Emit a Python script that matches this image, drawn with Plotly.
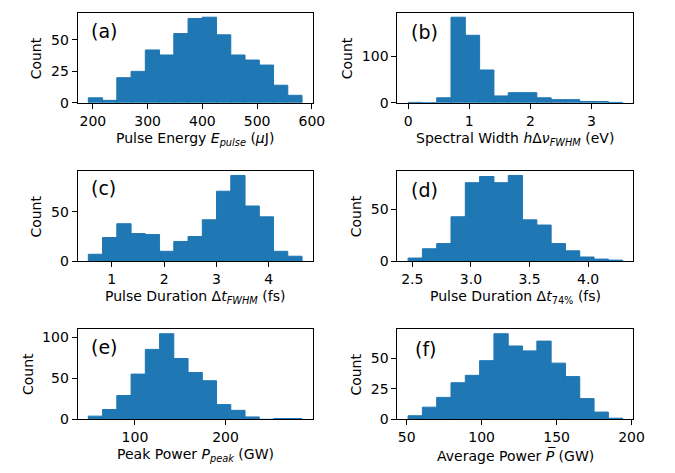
import numpy as np
import plotly.graph_objects as go

# ---- data (histogram counts, 15 equal bins between lo and hi) ----
a_lo, a_hi = 191.6, 582.0
a_counts = [4, 2, 20, 25, 42, 38, 55, 67, 68, 54, 38, 34, 30, 14, 6]

b_lo, b_hi = 0.0, 3.51
b_counts = [1, 0, 11, 185, 146, 71, 15, 22, 22, 11, 7, 7, 3, 3, 1]

c_lo, c_hi = 0.552, 4.635
c_counts = [7, 24, 38, 28, 27, 10, 20, 25, 42, 71, 87, 56, 45, 10, 5]

d_lo, d_hi = 2.464, 4.295
d_counts = [3, 12, 17, 43, 76, 82, 76, 83, 40, 35, 17, 10, 4, 2, 1]

e_lo, e_hi = 48.5, 284.5
e_counts = [4, 12, 29, 55, 85, 104, 74, 57, 47, 18, 11, 3, 0, 1, 1]

f_lo, f_hi = 50.9, 194.1
f_counts = [3, 10, 18, 30, 36, 48, 70, 60, 56, 64, 46, 35, 17, 6, 1]

a_xticks = [200, 300, 400, 500, 600]
b_xticks = [0, 1, 2, 3]
c_xticks = [1, 2, 3, 4]
d_xticks = [2.5, 3.0, 3.5, 4.0]
e_xticks = [100, 200]
f_xticks = [50, 100, 150, 200]

a_yticks = [0, 25, 50]
b_yticks = [0, 100]
c_yticks = [0, 50]
d_yticks = [0, 50]
e_yticks = [0, 50, 100]
f_yticks = [0, 25, 50]

labels = ["(a)", "(b)", "(c)", "(d)", "(e)", "(f)"]
xtitles = [
    "Pulse Energy <i>E<sub>pulse</sub></i> (<i>μ</i>J)",
    "Spectral Width <i>h</i>Δ<i>ν<sub>FWHM</sub></i> (eV)",
    "Pulse Duration Δ<i>t<sub>FWHM</sub></i> (fs)",
    "Pulse Duration Δ<i>t</i><sub>74%</sub> (fs)",
    "Peak Power <i>P<sub>peak</sub></i> (GW)",
    "Average Power <i>P\u0305</i> (GW)",
]
ytitle = "Count"

panels = [
    (a_lo, a_hi, a_counts, a_xticks, a_yticks, ".0f"),
    (b_lo, b_hi, b_counts, b_xticks, b_yticks, ".0f"),
    (c_lo, c_hi, c_counts, c_xticks, c_yticks, ".0f"),
    (d_lo, d_hi, d_counts, d_xticks, d_yticks, ".1f"),
    (e_lo, e_hi, e_counts, e_xticks, e_yticks, ".0f"),
    (f_lo, f_hi, f_counts, f_xticks, f_yticks, ".0f"),
]

# ---- layout geometry ----
W, H = 675, 473
col_x = [(71, 310.7), (397, 637.7)]
row_y = [(5, 96.5), (166, 257.5), (327, 418.5)]
ytitle_x = [28, 346, 29, 355, 21, 355]
label_x = [0.05, 0.05, 0.05, 0.05, 0.05, 0.065]
label_y = [0.80, 0.79, 0.81, 0.79, 0.80, 0.78]

FONT = "DejaVu Sans"
TXT = "#000000"
BLUE = "#1f77b4"

fig = go.Figure()
layout = dict(
    width=W, height=H,
    margin=dict(l=0, r=0, t=0, b=0),
    paper_bgcolor="white", plot_bgcolor="white",
    showlegend=False,
    font=dict(family=FONT, size=14, color=TXT),
    annotations=[],
)

for i, (lo, hi, counts, xt, yt, fmt) in enumerate(panels):
    n = i + 1
    xs = "" if n == 1 else str(n)
    r, c = divmod(i, 2)
    edges = np.linspace(lo, hi, len(counts) + 1)
    centers = (edges[:-1] + edges[1:]) / 2
    bw = edges[1] - edges[0]
    fig.add_trace(go.Bar(x=centers, y=counts, width=bw,
                         marker=dict(color=BLUE, line=dict(width=1, color=BLUE)),
                         xaxis="x" + xs, yaxis="y" + xs, hoverinfo="skip"))
    span = hi - lo
    x0p, x1p = col_x[c]
    y0p, y1p = row_y[r]
    ax = dict(
        domain=[x0p / W, x1p / W],
        range=[lo - 0.05 * span, hi + 0.05 * span],
        anchor="y" + xs,
        showline=True, mirror=True, linecolor="black", linewidth=1,
        ticks="outside", ticklen=5, tickwidth=1, tickcolor="black",
        showgrid=False, zeroline=False,
        tickvals=xt, ticktext=[format(v, fmt) for v in xt],
        tickfont=dict(family=FONT, size=14, color=TXT),
        fixedrange=True,
    )
    ay = dict(
        domain=[1 - y1p / H, 1 - y0p / H],
        range=[0, max(counts) * 1.05],
        anchor="x" + xs,
        showline=True, mirror=True, linecolor="black", linewidth=1,
        ticks="outside", ticklen=5, tickwidth=1, tickcolor="black",
        showgrid=False, zeroline=False,
        tickvals=yt, ticktext=[str(v) for v in yt],
        tickfont=dict(family=FONT, size=14, color=TXT),
        fixedrange=True,
    )
    layout["xaxis" + xs] = ax
    layout["yaxis" + xs] = ay
    # panel label
    layout["annotations"].append(dict(
        text=labels[i], xref=f"x{xs} domain", yref=f"y{xs} domain",
        x=label_x[i], y=label_y[i], xanchor="left", yanchor="middle",
        showarrow=False, font=dict(family=FONT, size=19, color=TXT)))
    # x title
    layout["annotations"].append(dict(
        text=xtitles[i], xref="paper", yref="paper",
        x=(x0p + x1p) / 2 / W, y=1 - (y1p + 36.5) / H,
        xanchor="center", yanchor="middle",
        showarrow=False, font=dict(family=FONT, size=14, color=TXT)))
    # y title
    layout["annotations"].append(dict(
        text=ytitle, xref="paper", yref="paper",
        x=ytitle_x[i] / W, y=1 - (y0p + y1p) / 2 / H,
        xanchor="center", yanchor="middle", textangle=-90,
        showarrow=False, font=dict(family=FONT, size=14, color=TXT)))

fig.update_layout(**layout)
fig.write_html("out.html")
